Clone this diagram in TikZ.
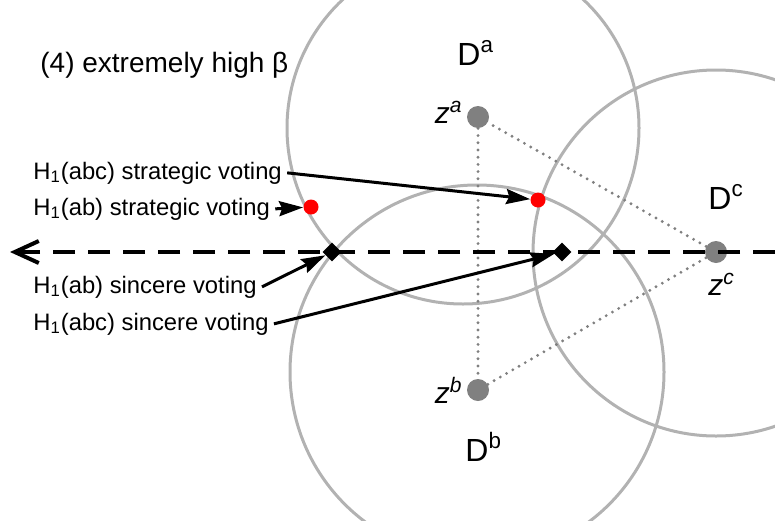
\documentclass[tikz,border=0pt]{standalone}
\usepackage{fontspec}
\setmainfont{Liberation Sans}
\usetikzlibrary{arrows.meta,shapes.geometric}

\begin{document}
\begin{tikzpicture}[x=0.5pt,y=-0.5pt,
  disc/.style={line width=1.5pt, draw=gray!60},
  ideal/.style={circle, fill=gray, inner sep=0pt, minimum size=11pt},
  strat/.style={circle, fill=red, inner sep=0pt, minimum size=7.5pt},
  sinc/.style={diamond, fill=black, inner sep=0pt, minimum size=9.5pt},
  hint/.style={font=\fontsize{11.9}{14}\selectfont, anchor=base west, inner sep=2.5pt},
  pointer/.style={line width=1.5pt, -{Stealth[length=12pt,width=7.5pt,inset=1.5pt]}}]

\def\width{775}
\def\height{520}
\def\ly{252}

\path [use as bounding box] (0,0) rectangle (\width,\height);

% DISCS
\begin{scope}
\clip (0,0) rectangle (\width,\height);
\draw [disc] (463,128) circle [radius=176];
\draw [disc] (477,372) circle [radius=187];
\draw [disc] (716,253) circle [radius=183];
\end{scope}

% IDEAL POINTS
\node [ideal] (za) at (478,117) {};
\node [ideal] (zb) at (478,390) {};
\node [ideal] (zc) at (716,\ly) {};
\draw [gray, line width=1.6pt, dash pattern=on 0pt off 3.6pt, line cap=round] (za) -- (zb) -- (zc) -- (za);

% LINE
\coordinate (east) at (\width,\ly);
\coordinate (west) at (10,\ly);
\draw [line width=2pt, dash pattern=on 11pt off 6.5pt, -{Straight Barb[length=12pt,width=11pt]}] (east) -- (west);

% OUTCOMES
\node [sinc] (ab) at (332,\ly) {};
\node [sinc] (abc) at (562,\ly) {};
\node [strat] (sab) at (311,207) {};
\node [strat] (sabc) at (538,200) {};

% LABELS
\node [hint] (t1) at (28,179) {H\textsubscript{1}(abc) strategic voting};
\node [hint] (t2) at (28,215) {H\textsubscript{1}(ab) strategic voting};
\node [hint] (t3) at (28,293) {H\textsubscript{1}(ab) sincere voting};
\node [hint] (t4) at (28,330) {H\textsubscript{1}(abc) sincere voting};
\draw [pointer] (t1.east) -- (sabc);
\draw [pointer] (t2.east) -- (sab);
\draw [pointer] (t3.east) -- (ab);
\draw [pointer] (t4.east) -- (abc);

\node [anchor=base west, inner sep=0pt, font=\fontsize{14}{17}\selectfont] (title) at (40,72) {(4) extremely high β};
\node [anchor=base west, inner sep=0pt, font=\fontsize{16}{19}\selectfont] (Da) at (457,65) {D\textsuperscript{a}};
\node [anchor=base west, inner sep=0pt, font=\fontsize{16}{19}\selectfont] (Db) at (465,461) {D\textsuperscript{b}};
\node [anchor=base west, inner sep=0pt, font=\fontsize{16}{19}\selectfont] (Dc) at (708,209) {D\textsuperscript{c}};
\node [anchor=base east, inner sep=0pt, font=\fontsize{15}{18}\selectfont] (zal) at (463,123) {\textit{z}\textsuperscript{\textit{a}}};
\node [anchor=base east, inner sep=0pt, font=\fontsize{15}{18}\selectfont] (zbl) at (463,403) {\textit{z}\textsuperscript{\textit{b}}};
\node [anchor=base west, inner sep=0pt, font=\fontsize{15}{18}\selectfont] (zcl) at (708,295) {\textit{z}\textsuperscript{\textit{c}}};

\end{tikzpicture}
\end{document}
